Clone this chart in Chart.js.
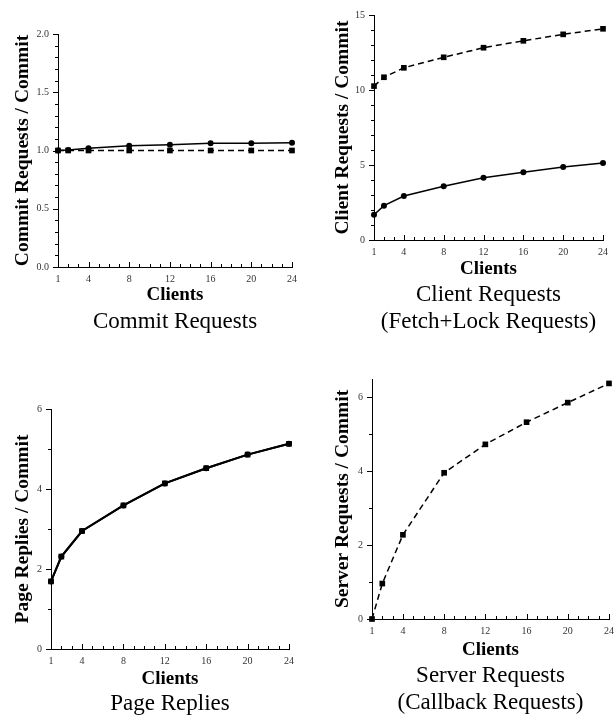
<!DOCTYPE html>
<html>
<head>
<meta charset="utf-8">
<script src="https://cdn.jsdelivr.net/npm/chart.js@4.4.1/dist/chart.umd.min.js"></script>
<style>
html,body{margin:0;padding:0;background:#fff;overflow:hidden;width:615px;height:717px;position:relative;}
canvas{position:absolute;}
</style>
</head>
<body>
<canvas id="c1"></canvas>
<canvas id="c2"></canvas>
<canvas id="c3"></canvas>
<canvas id="c4"></canvas>
<script>
// ---------- data ----------
const clients = [1, 2, 4, 8, 12, 16, 20, 24];
const xTickLabels = [1, 4, 8, 12, 16, 20, 24];

const commitCircle = [1.0, 1.004, 1.02, 1.04, 1.05, 1.062, 1.062, 1.067];
const commitSquare = [1.0, 1.0, 1.0, 1.0, 1.0, 1.0, 1.0, 1.0];
const commitYTicks = [0.0, 0.5, 1.0, 1.5, 2.0];

const clientSquare = [10.26, 10.85, 11.48, 12.18, 12.82, 13.28, 13.71, 14.08];
const clientCircle = [1.68, 2.29, 2.93, 3.58, 4.15, 4.52, 4.87, 5.13];
const clientYTicks = [0, 5, 10, 15];

const pageCircle = [1.69, 2.31, 2.95, 3.59, 4.14, 4.52, 4.86, 5.13];
const pageSquare = [1.69, 2.31, 2.95, 3.59, 4.14, 4.52, 4.86, 5.13];
const pageYTicks = [0, 2, 4, 6];

const serverSquare = [0, 0.96, 2.28, 3.96, 4.73, 5.33, 5.86, 6.38];
const serverYTicks = [0, 2, 4, 6];

// ---------- helpers ----------
const FONT = '"Liberation Serif", "Times New Roman", serif';

function pts(vals) { return clients.map((c, i) => ({ x: c, y: vals[i] })); }
function isMajor(v, list) { return list.some(m => Math.abs(m - v) < 1e-6); }

const tickMarks = {
  id: 'tickMarks',
  afterDraw(chart) {
    const ctx = chart.ctx, xs = chart.scales.x, ys = chart.scales.y;
    ctx.save();
    ctx.strokeStyle = '#000';
    ctx.lineWidth = 1;
    ctx.beginPath();
    xs.ticks.forEach(t => {
      const px = Math.round(xs.getPixelForValue(t.value)) + 0.5;
      const len = t.label !== '' ? 5 : 3;
      ctx.moveTo(px, xs.top);
      ctx.lineTo(px, xs.top - len);
    });
    ys.ticks.forEach(t => {
      const py = Math.round(ys.getPixelForValue(t.value)) + 0.5;
      const len = t.label !== '' ? 5 : 3;
      ctx.moveTo(ys.right, py);
      ctx.lineTo(ys.right - len, py);
    });
    ctx.stroke();
    ctx.restore();
  }
};

function line(vals, style, dashed, width) {
  return {
    data: pts(vals),
    borderColor: '#000',
    backgroundColor: '#000',
    borderWidth: width || 1.5,
    borderDash: dashed ? [6, 4] : [],
    pointStyle: style,
    pointRadius: style === 'rect' ? 4 : 3,
    pointBackgroundColor: '#000',
    pointBorderColor: '#000',
    pointBorderWidth: 0,
    tension: 0,
    clip: false
  };
}

function panel(o) {
  const cv = document.getElementById(o.id);
  cv.width = o.box.w; cv.height = o.box.h;
  cv.style.left = o.box.x + 'px'; cv.style.top = o.box.y + 'px';

  const lhC = 19, lhY = 19, lhS = 23 * 1.2;
  const areaTop = o.area.top - o.box.y;
  const areaBottom = o.area.bottom - o.box.y;
  const yAxisW = o.area.left - o.box.x;
  const padRight = o.box.x + o.box.w - o.area.right;
  const xAxisH = o.clientsY - o.area.bottom + lhC / 2;
  const subPadTop = o.subY - o.area.bottom - xAxisH - lhS / 2;
  const subPadBottom = o.box.h - areaBottom - xAxisH - subPadTop - o.subtitle.length * lhS;
  const yTitlePad = o.yTitleX - o.box.x - lhY / 2;

  new Chart(cv, {
    type: 'line',
    data: { datasets: o.datasets },
    options: {
      responsive: false,
      animation: false,
      events: [],
      layout: { padding: { left: 0, top: areaTop, right: padRight, bottom: 0 } },
      plugins: {
        legend: { display: false },
        tooltip: { enabled: false },
        title: {
          display: true,
          position: 'bottom',
          fullSize: false,
          text: o.subtitle,
          color: '#000',
          font: { family: FONT, size: 23, weight: 'normal', lineHeight: 1.2 },
          padding: { top: subPadTop, bottom: subPadBottom }
        }
      },
      scales: {
        x: {
          type: 'linear',
          min: 1, max: 24,
          grid: { display: false, drawTicks: false },
          border: { display: true, color: '#000', width: 1 },
          ticks: {
            stepSize: 1, autoSkip: false, maxRotation: 0, minRotation: 0,
            maxTicksLimit: 100, padding: 6, color: '#333',
            font: { family: FONT, size: 10 },
            callback: v => isMajor(v, xTickLabels) ? String(v) : ''
          },
          title: {
            display: true, text: 'Clients', color: '#000',
            font: { family: FONT, size: 19, weight: 'bold', lineHeight: 1.0 },
            padding: 0
          },
          afterFit: s => { s.height = xAxisH; }
        },
        y: {
          type: 'linear',
          min: o.yMin, max: o.yMax,
          grid: { display: false, drawTicks: false },
          border: { display: true, color: '#000', width: 1 },
          ticks: {
            stepSize: o.yStep, autoSkip: false, includeBounds: false,
            maxTicksLimit: 100, padding: 9, color: '#333',
            font: { family: FONT, size: 10 },
            callback: v => isMajor(v, o.yMajor) ? v.toFixed(o.yDigits) : ''
          },
          title: {
            display: true, text: o.yTitle, color: '#000',
            font: { family: FONT, size: 19.5, weight: 'bold', lineHeight: 1.0 },
            padding: { top: yTitlePad, bottom: 0 }
          },
          afterFit: s => { s.width = yAxisW; }
        }
      }
    },
    plugins: [tickMarks]
  });
}

panel({
  id: 'c1', box: { x: 0, y: 0, w: 307, h: 345 },
  area: { left: 58, top: 34, right: 292, bottom: 267 },
  clientsY: 295.5, subY: 321.5, yTitleX: 22.5,
  yMin: 0, yMax: 2, yStep: 0.1, yMajor: commitYTicks, yDigits: 1,
  yTitle: 'Commit Requests / Commit',
  subtitle: ['Commit Requests'],
  datasets: [line(commitSquare, 'rect', true), line(commitCircle, 'circle', false)]
});

panel({
  id: 'c2', box: { x: 307, y: 0, w: 308, h: 345 },
  area: { left: 374, top: 11, right: 603, bottom: 240 },
  clientsY: 269.5, subY: 294.5, yTitleX: 342.5,
  yMin: 0, yMax: 15, yStep: 1, yMajor: clientYTicks, yDigits: 0,
  yTitle: 'Client Requests / Commit',
  subtitle: ['Client Requests', '(Fetch+Lock Requests)'],
  datasets: [line(clientSquare, 'rect', true), line(clientCircle, 'circle', false)]
});

panel({
  id: 'c3', box: { x: 0, y: 345, w: 300, h: 372 },
  area: { left: 51, top: 409, right: 292, bottom: 649 },
  clientsY: 679.5, subY: 703.5, yTitleX: 23,
  yMin: 0, yMax: 6, yStep: 1, yMajor: pageYTicks, yDigits: 0,
  yTitle: 'Page Replies / Commit',
  subtitle: ['Page Replies'],
  datasets: [line(pageCircle, 'circle', false, 2), line(pageSquare, 'rect', false, 2)]
});

panel({
  id: 'c4', box: { x: 300, y: 345, w: 320, h: 372 },
  area: { left: 372, top: 379, right: 612, bottom: 619 },
  clientsY: 650.5, subY: 675.5, yTitleX: 342.5,
  yMin: 0, yMax: 6.5, yStep: 1, yMajor: serverYTicks, yDigits: 0,
  yTitle: 'Server Requests / Commit',
  subtitle: ['Server Requests', '(Callback Requests)'],
  datasets: [line(serverSquare, 'rect', true)]
});
</script>
</body>
</html>
